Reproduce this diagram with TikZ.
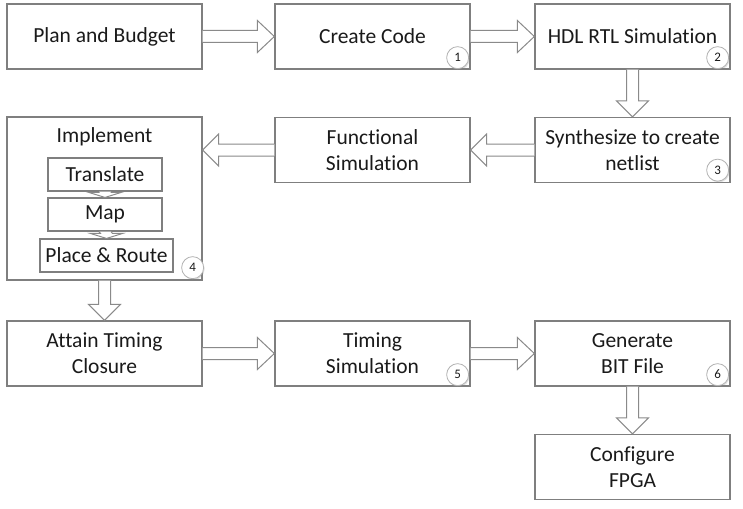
\documentclass[tikz,border=0pt]{standalone}
\usepackage{fontspec}
\setmainfont{Carlito}[Ligatures=NoCommon]
\usetikzlibrary{calc,shadows}
\definecolor{boxline}{HTML}{7F7F7F}
\definecolor{arrline}{HTML}{8A8A8A}
\definecolor{txt}{HTML}{1A1A1A}
\tikzset{
  box/.style={draw=boxline, line width=1.3pt, fill=white, minimum width=195pt, minimum height=65pt,
    inner sep=0pt, align=center, text=txt, font=\fontsize{21.5}{26}\selectfont},
  sub/.style={draw=boxline, line width=1.1pt, fill=white, minimum height=33pt,
    inner sep=0pt, align=center, text=txt, font=\fontsize{21.5}{26}\selectfont},
  blk/.style={draw=arrline, line width=1pt, fill=white, line join=miter},
  num/.style={circle, draw=gray!60, line width=0.8pt, fill=white, minimum size=22pt, inner sep=0pt,
    text=txt, font=\fontsize{13}{13}\selectfont,
    drop shadow={opacity=0.25, shadow xshift=1pt, shadow yshift=-1.2pt}},
}
% #1 head length, #2 start, #3 tip
\newcommand\arrR[3]{\draw[blk] ($(#2)+(0,-6)$) -- ($(#3)+(-#1,-6)$) -- ($(#3)+(-#1,-16)$) -- (#3) -- ($(#3)+(-#1,16)$) -- ($(#3)+(-#1,6)$) -- ($(#2)+(0,6)$);}
\newcommand\arrL[3]{\draw[blk] ($(#2)+(0,-6)$) -- ($(#3)+(#1,-6)$) -- ($(#3)+(#1,-16)$) -- (#3) -- ($(#3)+(#1,16)$) -- ($(#3)+(#1,6)$) -- ($(#2)+(0,6)$);}
\newcommand\arrD[3]{\draw[blk] ($(#2)+(-6,0)$) -- ($(#3)+(-6,-#1)$) -- ($(#3)+(-16,-#1)$) -- (#3) -- ($(#3)+(16,-#1)$) -- ($(#3)+(6,-#1)$) -- ($(#2)+(6,0)$);}
\begin{document}
\begin{tikzpicture}[x=1pt, y=-1pt]
\useasboundingbox[fill=white] (0,0) rectangle (743,508);
% row 1
\node[box] (plan) at (104.5,36.5) {Plan and Budget};
\node[box] (create) at (372.5,36.5) {Create Code};
\node[box] (hdl) at (632.5,36.5) {HDL RTL Simulation};
% row 2
\node[box] (synth) at (632.5,150) {Synthesize to create\\netlist};
\node[box] (func) at (372.5,150) {Functional\\Simulation};
\node[box, minimum height=163pt] (impl) at (104.5,198.5) {};
\node[text=txt, font=\fontsize{21.5}{26}\selectfont, inner sep=0pt] (implt) at (104.5,137) {Implement};
\node[sub, minimum width=114pt] (trans) at (105,174.5) {Translate};
\node[sub, minimum width=114pt] (map) at (105,214.5) {Map};
\node[sub, minimum width=133pt] (pr) at (106.5,255.5) {Place \& Route};
\coordinate (ftip) at (impl.east |- func.west);
% row 3
\node[box] (attain) at (104.5,353.5) {Attain Timing\\Closure};
\node[box] (timing) at (372.5,353.5) {Timing\\Simulation};
\node[box] (gen) at (632.5,353.5) {Generate\\BIT File};
% row 4
\node[box] (conf) at (632.5,467) {Configure\\FPGA};
% arrows
\arrR{17}{plan.east}{create.west}
\arrR{17}{create.east}{hdl.west}
\arrD{16}{hdl.south}{synth.north}
\arrL{16}{synth.west}{func.east}
\arrL{16}{func.west}{ftip}
\arrD{5}{trans.south}{map.north}
\arrD{5}{map.south}{pr.north}
\arrD{16}{impl.south}{attain.north}
\arrR{17}{attain.east}{timing.west}
\arrR{17}{timing.east}{gen.west}
\arrD{16}{gen.south}{conf.north}
% step numbers
\node[num] (n1) at ($(create.south east)+(-13,-12)$) {1};
\node[num] (n2) at ($(hdl.south east)+(-13,-12)$) {2};
\node[num] (n3) at ($(synth.south east)+(-13,-13)$) {3};
\node[num] (n4) at ($(impl.south east)+(-10,-13)$) {4};
\node[num] (n5) at ($(timing.south east)+(-13,-12)$) {5};
\node[num] (n6) at ($(gen.south east)+(-13,-12)$) {6};
\end{tikzpicture}
\end{document}
